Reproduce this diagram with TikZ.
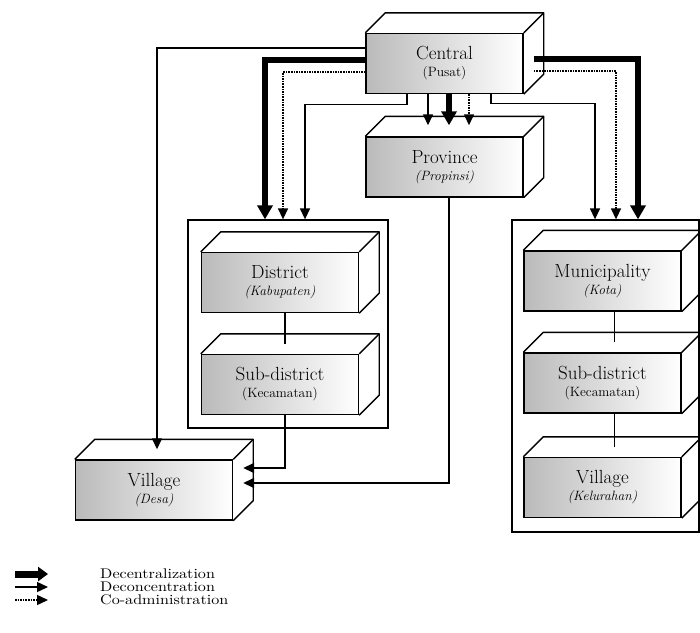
\documentclass[tikz,border=0pt]{standalone}
\usepackage{fontspec}
\newfontfamily\legendfont{lmroman10}[Extension=.otf, UprightFont=*-regular, FakeStretch=1.15]
\usepackage{tikz}
\usetikzlibrary{arrows.meta,positioning,calc}
\newcommand{\tiername}[2]{{\fontsize{19}{21}\selectfont #1}\\[2pt]#2}
% draw top and side face of a box whose front face is node #1
\newcommand{\tierdepth}[1]{%
  \draw[edge] (#1.north west) -- ++(20,-20) -| ($(#1.south east)+(20,-20)$) -- (#1.south east);
  \draw[edge] (#1.north east) -- ++(20,-20);}
\tikzset{
  edge/.style    = {line width=1.4pt, line join=round},
  tier/.style    = {rectangle, draw, line width=1.4pt, left color=black!27, right color=white,
                    minimum width=157pt, minimum height=60pt, inner sep=0pt, align=center,
                    font=\fontsize{13.5}{15}\selectfont},
  cluster/.style = {rectangle, draw, line width=1.3pt, inner sep=0pt},
  decent/.style  = {-{Triangle[length=14pt,width=15pt]}, line width=5.5pt},
  deconc/.style  = {-{Triangle[length=11pt,width=10pt]}, line width=1.4pt},
  coadm/.style   = {deconc, dash pattern=on 1.6pt off 1pt},
  legtext/.style = {anchor=west, inner sep=0pt, font=\legendfont\fontsize{14}{15}\selectfont},
}
\begin{document}
\begin{tikzpicture}[x=1pt,y=-1pt]
\useasboundingbox (0,0) rectangle (700,632);
% containers
\node[cluster, minimum width=200pt, minimum height=208pt] (lbox) at (288,324) {};
\node[cluster, minimum width=187pt, minimum height=312pt] (rbox) at (605.5,376) {};
% levels
\node[tier] (cen)  at (444.5,63.5) {\tiername{Central}{(Pusat)}};
\node[tier] (pro)  at (444.5,167)  {\tiername{Province}{\itshape(Propinsi)}};
\node[tier] (dist) at (280,282.5)  {\tiername{District}{\itshape(Kabupaten)}};
\node[tier] (subl) at (280,384.5)  {\tiername{Sub-district}{(Kecamatan)}};
\node[tier] (vil)  at (154,490)    {\tiername{Village}{\itshape(Desa)}};
\node[tier] (mun)  at (602.5,281)  {\tiername{Municipality}{\itshape(Kota)}};
\node[tier] (subr) at (602.5,383)  {\tiername{Sub-district}{(Kecamatan)}};
\node[tier] (kel)  at (602.5,487.5){\tiername{Village}{\itshape(Kelurahan)}};
\foreach \n in {cen,pro,dist,subl,vil,mun,subr,kel} {\tierdepth{\n}}
% inside the containers
\draw[edge] ([xshift=5pt]dist.south) -- ([xshift=5pt,yshift=10pt]subl.north);
\draw[edge] ([xshift=12pt]mun.south) -- ([xshift=12pt,yshift=10pt]subr.north);
\draw[edge] ([xshift=12pt]subr.south) -- ([xshift=12pt,yshift=10pt]kel.north);
% central to province
\draw[deconc] ([xshift=-16.5pt]cen.south) -- ([xshift=-16.5pt,yshift=11pt]pro.north);
\draw[decent] ([xshift=4.5pt]cen.south) -- ([xshift=4.5pt,yshift=11pt]pro.north);
\draw[coadm]  ([xshift=24.5pt]cen.south) -- ([xshift=24.5pt,yshift=11pt]pro.north);
% central to the left side
\draw[deconc] ([yshift=15.5pt]cen.west) -| ([xshift=3pt,yshift=10pt]vil.north);
\draw[decent] ([yshift=3.5pt]cen.west) -| ([xshift=-23pt]lbox.north);
\draw[coadm]  ([yshift=-8.5pt]cen.west) -| ([xshift=-5pt]lbox.north);
\draw[deconc] ([xshift=-37.5pt]cen.south) -- ++(0,10.5) -| ([xshift=17pt]lbox.north);
% central to the right side
\draw[decent] ([xshift=10pt,yshift=4.5pt]cen.east) -| ([xshift=32.5pt]rbox.north);
\draw[coadm]  ([xshift=10pt,yshift=-7.5pt]cen.east) -| ([xshift=10.5pt]rbox.north);
\draw[deconc] ([xshift=46.5pt]cen.south) -- ++(0,9.5) -| ([xshift=-10.5pt]rbox.north);
% to the village
\draw[deconc] ([xshift=5pt]subl.south) |- ([xshift=10pt,yshift=22pt]vil.east);
\draw[deconc] ([xshift=4.5pt]pro.south) |- ([xshift=10pt,yshift=7pt]vil.east);
% legend
\node[legtext] (lg1) at (100,574) {Decentralization};
\node[legtext] (lg2) at (100,587) {Deconcentration};
\node[legtext] (lg3) at (100,600) {Co-administration};
\draw[-{Triangle[length=10pt,width=14pt]}, line width=7pt] ([xshift=-85pt]lg1.west) -- ([xshift=-52pt]lg1.west);
\draw[deconc] ([xshift=-85pt]lg2.west) -- ([xshift=-52pt]lg2.west);
\draw[coadm]  ([xshift=-85pt]lg3.west) -- ([xshift=-52pt]lg3.west);
\end{tikzpicture}
\end{document}
